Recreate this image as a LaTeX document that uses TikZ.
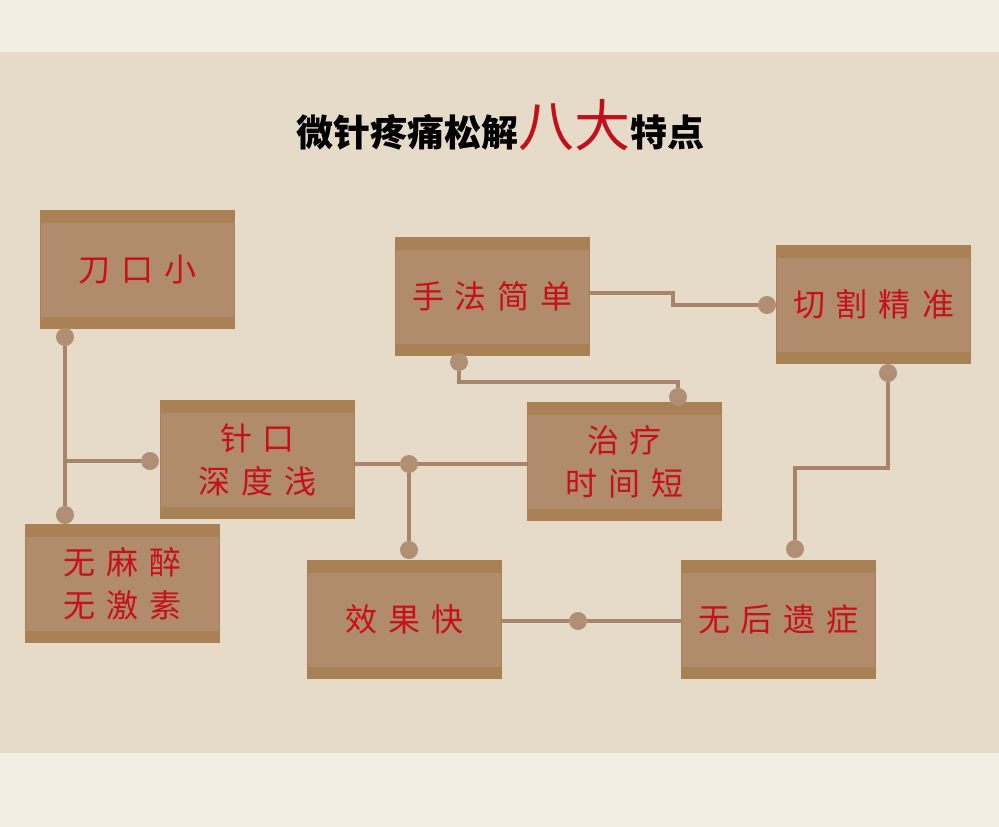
\documentclass[tikz,border=0pt]{standalone}
\usepackage{fontspec}
\usepackage[HTML]{xcolor}
\usepackage{tikz}
\newfontfamily\cjk{Noto Sans CJK SC}
\definecolor{bandcol}{HTML}{F3EEE3}
\definecolor{maincol}{HTML}{E6DAC8}
\definecolor{barcol}{HTML}{AA8154}
\definecolor{bodycol}{HTML}{B08B6C}
\definecolor{linecol}{HTML}{A8856A}
\definecolor{dotcol}{HTML}{B08F74}
\definecolor{textred}{HTML}{C8101A}
\definecolor{titlered}{HTML}{C0101A}

\begin{document}
\begin{tikzpicture}[x=1pt, y=-1pt, every node/.style={font=\cjk},
  scroll/.style={fill=barcol, minimum width=195pt, minimum height=119pt, inner sep=0pt,
    align=center, text=textred,
    font={\cjk\fontsize{32pt}{43pt}\selectfont\spaceskip=11pt\relax},
    path picture={\fill[bodycol] ([xshift=1pt,yshift=-12.5pt]path picture bounding box.north west)
      rectangle ([xshift=-1pt,yshift=12.5pt]path picture bounding box.south east);}},
  dot/.style={circle, fill=dotcol, minimum size=18pt, inner sep=0pt},
  link/.style={draw=linecol, line width=3.5pt}]
\useasboundingbox (0,0) rectangle (999,827);
\fill[bandcol] (0,0) rectangle (999,827);
\fill[maincol] (0,52) rectangle (999,753);

% Define the nodes
\node (title) [anchor=base] at (500,146) {{\bfseries\fontsize{37pt}{40pt}\selectfont 微针疼痛松解}{\fontsize{56pt}{60pt}\selectfont\color{titlered}八大}{\bfseries\fontsize{37pt}{40pt}\selectfont 特点}};

\node[scroll] (dkx) at (137.5,269.5) {刀 口 小};
\node[scroll] (sfjd) at (492.5,296.5) {手 法 简 单};
\node[scroll] (qgjz) at (873.5,304.5) {切 割 精 准};
\node[scroll] (zkqs) at (257.5,459.5) {针 口\\深 度 浅};
\node[scroll] (zlsj) at (624.5,461.5) {治 疗\\时 间 短};
\node[scroll] (wmz) at (122.5,583.5) {无 麻 醉\\无 激 素};
\node[scroll] (xgk) at (404.5,619.5) {效 果 快};
\node[scroll] (whyz) at (778.5,619.5) {无 后 遗 症};

\node[dot] (d1) at (65,337) {};
\node[dot] (d2) at (65,515) {};
\node[dot] (d3) at (150,461) {};
\node[dot] (d4) at (409,464) {};
\node[dot] (d5) at (409,550) {};
\node[dot] (d6) at (459,362) {};
\node[dot] (d7) at (678,397) {};
\node[dot] (d8) at (767,305) {};
\node[dot] (d9) at (888,373) {};
\node[dot] (d10) at (795,549) {};
\node[dot] (d11) at (578,621) {};

% Draw the links
\draw[link] (d1) -- (d2);
\draw[link] (d3) -- (d3 -| d1);
\draw[link] (zkqs.east |- d4) -- (d4) -- (d4 -| zlsj.west);
\draw[link] (d4) -- (d5);
\draw[link] (d6) -- ++(0,20) -| (d7);
\draw[link] (sfjd.east |- 0,293) -- (673,293) -- (673,305) -- (d8);
\draw[link] (d9) -- (d9 |- 0,468) -| (d10);
\draw[link] (xgk.east |- d11) -- (d11) -- (d11 -| whyz.west);
\end{tikzpicture}
\end{document}
